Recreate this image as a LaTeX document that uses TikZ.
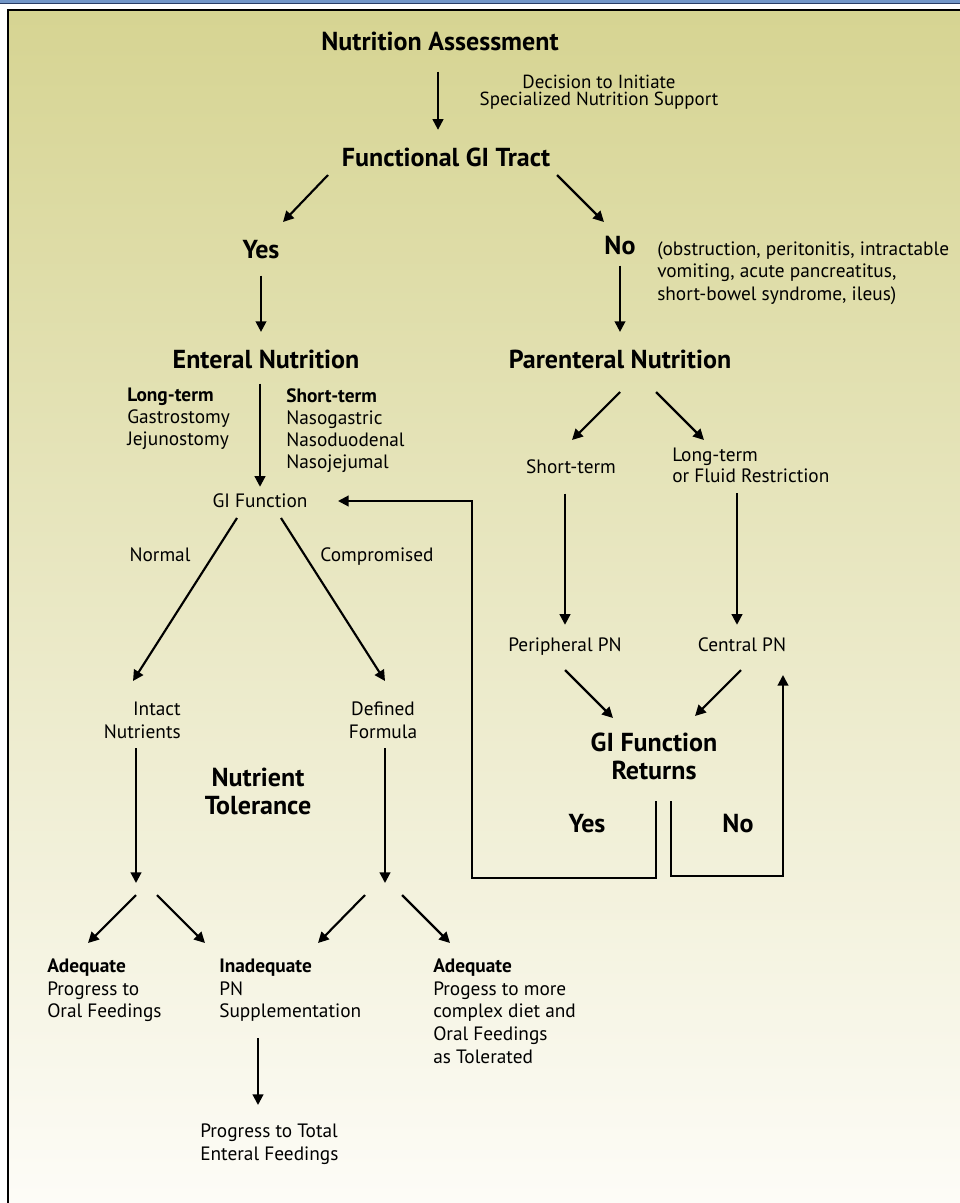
\documentclass[tikz,border=0pt]{standalone}
\usepackage{fontspec}
\setmainfont{PT Sans}
\usepackage{xcolor}
\usetikzlibrary{arrows.meta, positioning}
\definecolor{bandblue}{RGB}{114,150,200}
\definecolor{bandline}{RGB}{40,60,100}
\definecolor{paneltop}{RGB}{214,212,146}
\definecolor{panelbot}{RGB}{253,252,247}

\begin{document}
\begin{tikzpicture}[
          x=0.75pt, y=-0.75pt,
          every node/.style={inner sep=0pt, font=\fontsize{14.5}{16.9}\selectfont},
          head/.style={anchor=base, font=\fontsize{19.5}{21}\selectfont\bfseries},
          txt/.style={anchor=base},
          blk/.style={anchor=north west, align=left},
          arr/.style={line width=1.6pt, -{Triangle[length=8pt, width=8pt]}},
          wire/.style={line width=1.6pt}
        ]
  \useasboundingbox (0,0) rectangle (960,1203);
  \fill[white] (0,0) rectangle (960,1203);
  \fill[bandblue] (0,0) rectangle (960,3);
  \draw[bandline, line width=0.75pt] (0,3.5) -- (960,3.5);
  \shade[top color=paneltop, bottom color=panelbot] (8,9.5) rectangle (960,1203);
  \draw[line width=1.5pt] (960,9.5) -- (8,9.5) -- (8,1203);

  \node[head] (assess) at (440,50) {Nutrition Assessment};
  \node[anchor=north, align=center, font=\fontsize{14.2}{12.75}\selectfont] (decide) at (599,74.5) {Decision to Initiate\\Specialized Nutrition Support};
  \node[head] (fgi) at (446,166) {Functional GI Tract};
  \node[head] (yes1) at (261,258) {Yes};
  \node[head] (no1) at (620,254) {No};
  \node[blk] (why) at (657,241) {(obstruction, peritonitis, intractable\\vomiting, acute pancreatitus,\\short-bowel syndrome, ileus)};
  \node[head] (en) at (266,368) {Enteral Nutrition};
  \node[head] (pn) at (620,368) {Parenteral Nutrition};
  \node[blk, font=\fontsize{14.5}{16.5}\selectfont] (longt) at (127,388) {\textbf{Long-term}\\Gastrostomy\\Jejunostomy};
  \node[blk, font=\fontsize{14.5}{16.5}\selectfont] (shortt) at (286,388) {\textbf{Short-term}\\Nasogastric\\Nasoduodenal\\Nasojejumal};
  \node[txt] (gif) at (260,507) {GI Function};
  \node[txt] (normal) at (160,561) {Normal};
  \node[txt] (comp) at (377,561) {Compromised};
  \node[blk, anchor=north east, align=right, font=\fontsize{14.5}{17.25}\selectfont] (intact) at (181,702) {Intact\\Nutrients};
  \node[blk, anchor=north, align=center, font=\fontsize{14.5}{17.25}\selectfont] (defined) at (383,702) {Defined\\Formula};
  \node[head, anchor=north, align=center] (tol) at (258,768) {Nutrient\\Tolerance};
  \node[blk] (adq1) at (47,959) {\textbf{Adequate}\\Progress to\\Oral Feedings};
  \node[blk] (inadq) at (219,959) {\textbf{Inadequate}\\PN\\Supplementation};
  \node[blk] (adq2) at (433,959) {\textbf{Adequate}\\Progess to more\\complex diet and\\Oral Feedings\\as Tolerated};
  \node[blk, font=\fontsize{14.5}{17.25}\selectfont] (total) at (200,1124) {Progress to Total\\Enteral Feedings};
  \node[txt] (st) at (571,473) {Short-term};
  \node[blk, font=\fontsize{14.5}{15.75}\selectfont] (lt) at (672,448) {Long-term\\or Fluid Restriction};
  \node[txt] (ppn) at (565,651) {Peripheral PN};
  \node[txt] (cpn) at (742,651) {Central PN};
  \node[head, anchor=north, align=center] (ret) at (654,733) {GI Function\\Returns};
  \node[head] (yes2) at (587,832) {Yes};
  \node[head] (no2) at (738,832) {No};

  \coordinate (isplit) at (136,883);
  \coordinate (dsplit) at (385,883);
  \coordinate (back) at (472,878);
  \coordinate (fwd) at (783,876);

  \draw[arr, shorten <=15.75pt, shorten >=13pt] ([xshift=-1.5pt]assess.south) -- ([xshift=-1.5pt]assess.south |- fgi.north);
  \draw[arr, shorten <=12.75pt, shorten >=13pt] (yes1.south) -- (yes1.south |- en.north);
  \draw[arr, shorten <=8.25pt, shorten >=13pt] (no1.south) -- (no1.south |- pn.north);
  \draw[arr, shorten <=11.25pt, shorten >=4.65pt] (gif.north |- en.south) -- (gif.north);
  \draw[arr, shorten <=15pt, shorten >=9.15pt] (ppn.north |- st.south) -- (ppn.north);
  \draw[arr, shorten <=7.5pt, shorten >=9.15pt] ([xshift=-3.75pt]cpn.north |- lt.south) -- ([xshift=-3.75pt]cpn.north);
  \draw[arr, shorten <=6.75pt] (isplit |- intact.south) -- (isplit);
  \draw[arr, shorten <=6.75pt] (dsplit |- defined.south) -- (dsplit);
  \draw[arr, shorten <=12pt, shorten >=14.25pt] (tol |- inadq.south) -- (tol |- total.north);

  \draw[arr] ([shift={(-118,9)}]fgi.base) -- ([shift={(22,-36)}]yes1.base);
  \draw[arr] ([shift={(111,9)}]fgi.base) -- ([shift={(-16,-32)}]no1.base);
  \draw[arr] ([shift={(0,24)}]pn.base) -- ([shift={(1,-33)}]st.base);
  \draw[arr] ([shift={(36,24)}]pn.base) -- ([shift={(32,-8)}]lt.north west);
  \draw[arr] ([shift={(-23,11)}]gif.base) -- ([shift={(-48,-21)}]intact.north east);
  \draw[arr] ([shift={(21,11)}]gif.base) -- ([shift={(2,-21)}]defined.north);
  \draw[arr] ([shift={(0,12)}]isplit) -- ([shift={(41,-16)}]adq1.north west);
  \draw[arr] ([shift={(21,12)}]isplit) -- ([shift={(-14,-16)}]inadq.north west);
  \draw[arr] ([shift={(-20,12)}]dsplit) -- ([shift={(99,-16)}]inadq.north west);
  \draw[arr] ([shift={(17,12)}]dsplit) -- ([shift={(17,-16)}]adq2.north west);
  \draw[arr] ([shift={(0,19)}]ppn.base) -- ([shift={(-41,-15)}]ret.north);
  \draw[arr] ([shift={(-1,19)}]cpn.base) -- ([shift={(41,-17)}]ret.north);

  \draw[arr] ([shift={(2,21)}]ret.south) |- (back) |- ([shift={(78,-6)}]gif.base);
  \draw[arr] ([shift={(17,21)}]ret.south) |- (fwd) -- ([shift={(41,24)}]cpn.base);
\end{tikzpicture}
\end{document}
